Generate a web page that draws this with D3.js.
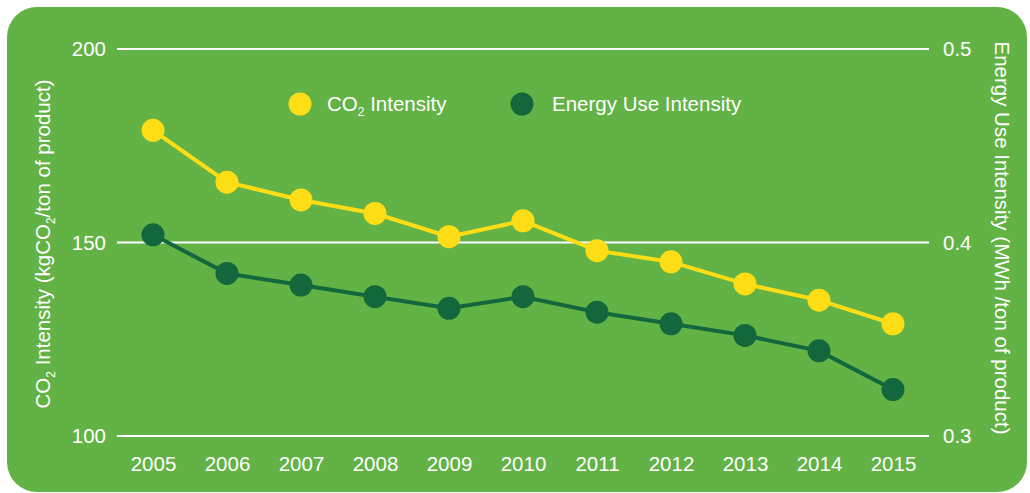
<!DOCTYPE html>
<html>
<head>
<meta charset="utf-8">
<script src="https://cdn.jsdelivr.net/npm/d3@7"></script>
<style>
  body { margin: 0; background: #fff; }
  text { font-family: "Liberation Sans", Arial, sans-serif; fill: #fff; }
</style>
</head>
<body>
<script>
var years = [2005, 2006, 2007, 2008, 2009, 2010, 2011, 2012, 2013, 2014, 2015];
var co2Intensity = [179, 165.6, 161, 157.5, 151.5, 155.6, 147.9, 145, 139.3, 135.1, 129];
var energyIntensity = [0.404, 0.384, 0.378, 0.372, 0.366, 0.372, 0.364, 0.358, 0.352, 0.344, 0.324];
var leftTicks = [100, 150, 200];
var rightTicks = [0.3, 0.4, 0.5];

var w = 1030, h = 493;
var bg = "#63b246", yellow = "#fddd15", dark = "#12683c";
var fs = 20.5;

var svg = d3.select("body").append("svg")
  .attr("width", w)
  .attr("height", h);

svg.append("rect")
  .attr("x", 7).attr("y", 7)
  .attr("width", 1020).attr("height", 485)
  .attr("rx", 30)
  .attr("fill", bg);

var x = d3.scalePoint().domain(years).range([153, 893]);
var yL = d3.scaleLinear().domain([100, 200]).range([436, 49]);
var yR = d3.scaleLinear().domain([0.3, 0.5]).range([436, 49]);

// gridlines
svg.append("g").selectAll("line")
  .data(leftTicks)
  .enter().append("line")
    .attr("x1", 117).attr("x2", 929)
    .attr("y1", function(d) { return yL(d); })
    .attr("y2", function(d) { return yL(d); })
    .attr("stroke", "#fff")
    .attr("stroke-width", 2);

// left axis labels
var leftAxis = d3.axisLeft(yL).tickValues(leftTicks).tickSize(0).tickPadding(0);
var gl = svg.append("g").attr("transform", "translate(106,0)").call(leftAxis);
gl.select(".domain").remove();
gl.selectAll("text").attr("font-size", fs).attr("fill", "#fff")
  .style("font-family", "Liberation Sans, Arial, sans-serif");

// right axis labels
var rightAxis = d3.axisRight(yR).tickValues(rightTicks).tickSize(0).tickPadding(0)
  .tickFormat(d3.format(".1f"));
var gr = svg.append("g").attr("transform", "translate(943,0)").call(rightAxis);
gr.select(".domain").remove();
gr.selectAll("text").attr("font-size", fs).attr("fill", "#fff")
  .style("font-family", "Liberation Sans, Arial, sans-serif");

// x axis labels
var bottomAxis = d3.axisBottom(x).tickSize(0).tickPadding(0).tickFormat(d3.format("d"));
var gb = svg.append("g").attr("transform", "translate(0,456)").call(bottomAxis);
gb.select(".domain").remove();
gb.selectAll("text").attr("font-size", fs).attr("fill", "#eef6e9")
  .style("font-family", "Liberation Sans, Arial, sans-serif");

// axis titles
var lt = svg.append("text")
  .attr("transform", "translate(50,244) rotate(-90)")
  .attr("text-anchor", "middle")
  .attr("font-size", fs);
lt.append("tspan").text("CO");
lt.append("tspan").attr("font-size", 12).attr("dy", 5).text("2");
lt.append("tspan").attr("dy", -5).text(" Intensity (kgCO");
lt.append("tspan").attr("font-size", 12).attr("dy", 5).text("2");
lt.append("tspan").attr("dy", -5).text("/ton of product)");

svg.append("text")
  .attr("transform", "translate(995,238) rotate(90)")
  .attr("text-anchor", "middle")
  .attr("font-size", fs)
  .text("Energy Use Intensity (MWh /ton of product)");

// lines
function drawSeries(values, y, color) {
  var line = d3.line()
    .x(function(d, i) { return x(years[i]); })
    .y(function(d) { return y(d); });
  svg.append("path")
    .datum(values)
    .attr("d", line)
    .attr("fill", "none")
    .attr("stroke", color)
    .attr("stroke-width", 4);
  svg.append("g").selectAll("circle")
    .data(values)
    .enter().append("circle")
      .attr("cx", function(d, i) { return x(years[i]); })
      .attr("cy", function(d) { return y(d); })
      .attr("r", 11.5)
      .attr("fill", color);
}
drawSeries(energyIntensity, yR, dark);
drawSeries(co2Intensity, yL, yellow);

// legend
svg.append("circle").attr("cx", 300).attr("cy", 104).attr("r", 11.5).attr("fill", yellow);
var l1 = svg.append("text").attr("x", 327).attr("y", 111).attr("font-size", fs);
l1.append("tspan").text("CO");
l1.append("tspan").attr("font-size", 12).attr("dy", 5).text("2");
l1.append("tspan").attr("dy", -5).text(" Intensity");

svg.append("circle").attr("cx", 522).attr("cy", 104).attr("r", 11.5).attr("fill", dark);
svg.append("text").attr("x", 552).attr("y", 111).attr("font-size", fs).text("Energy Use Intensity");
</script>
</body>
</html>
